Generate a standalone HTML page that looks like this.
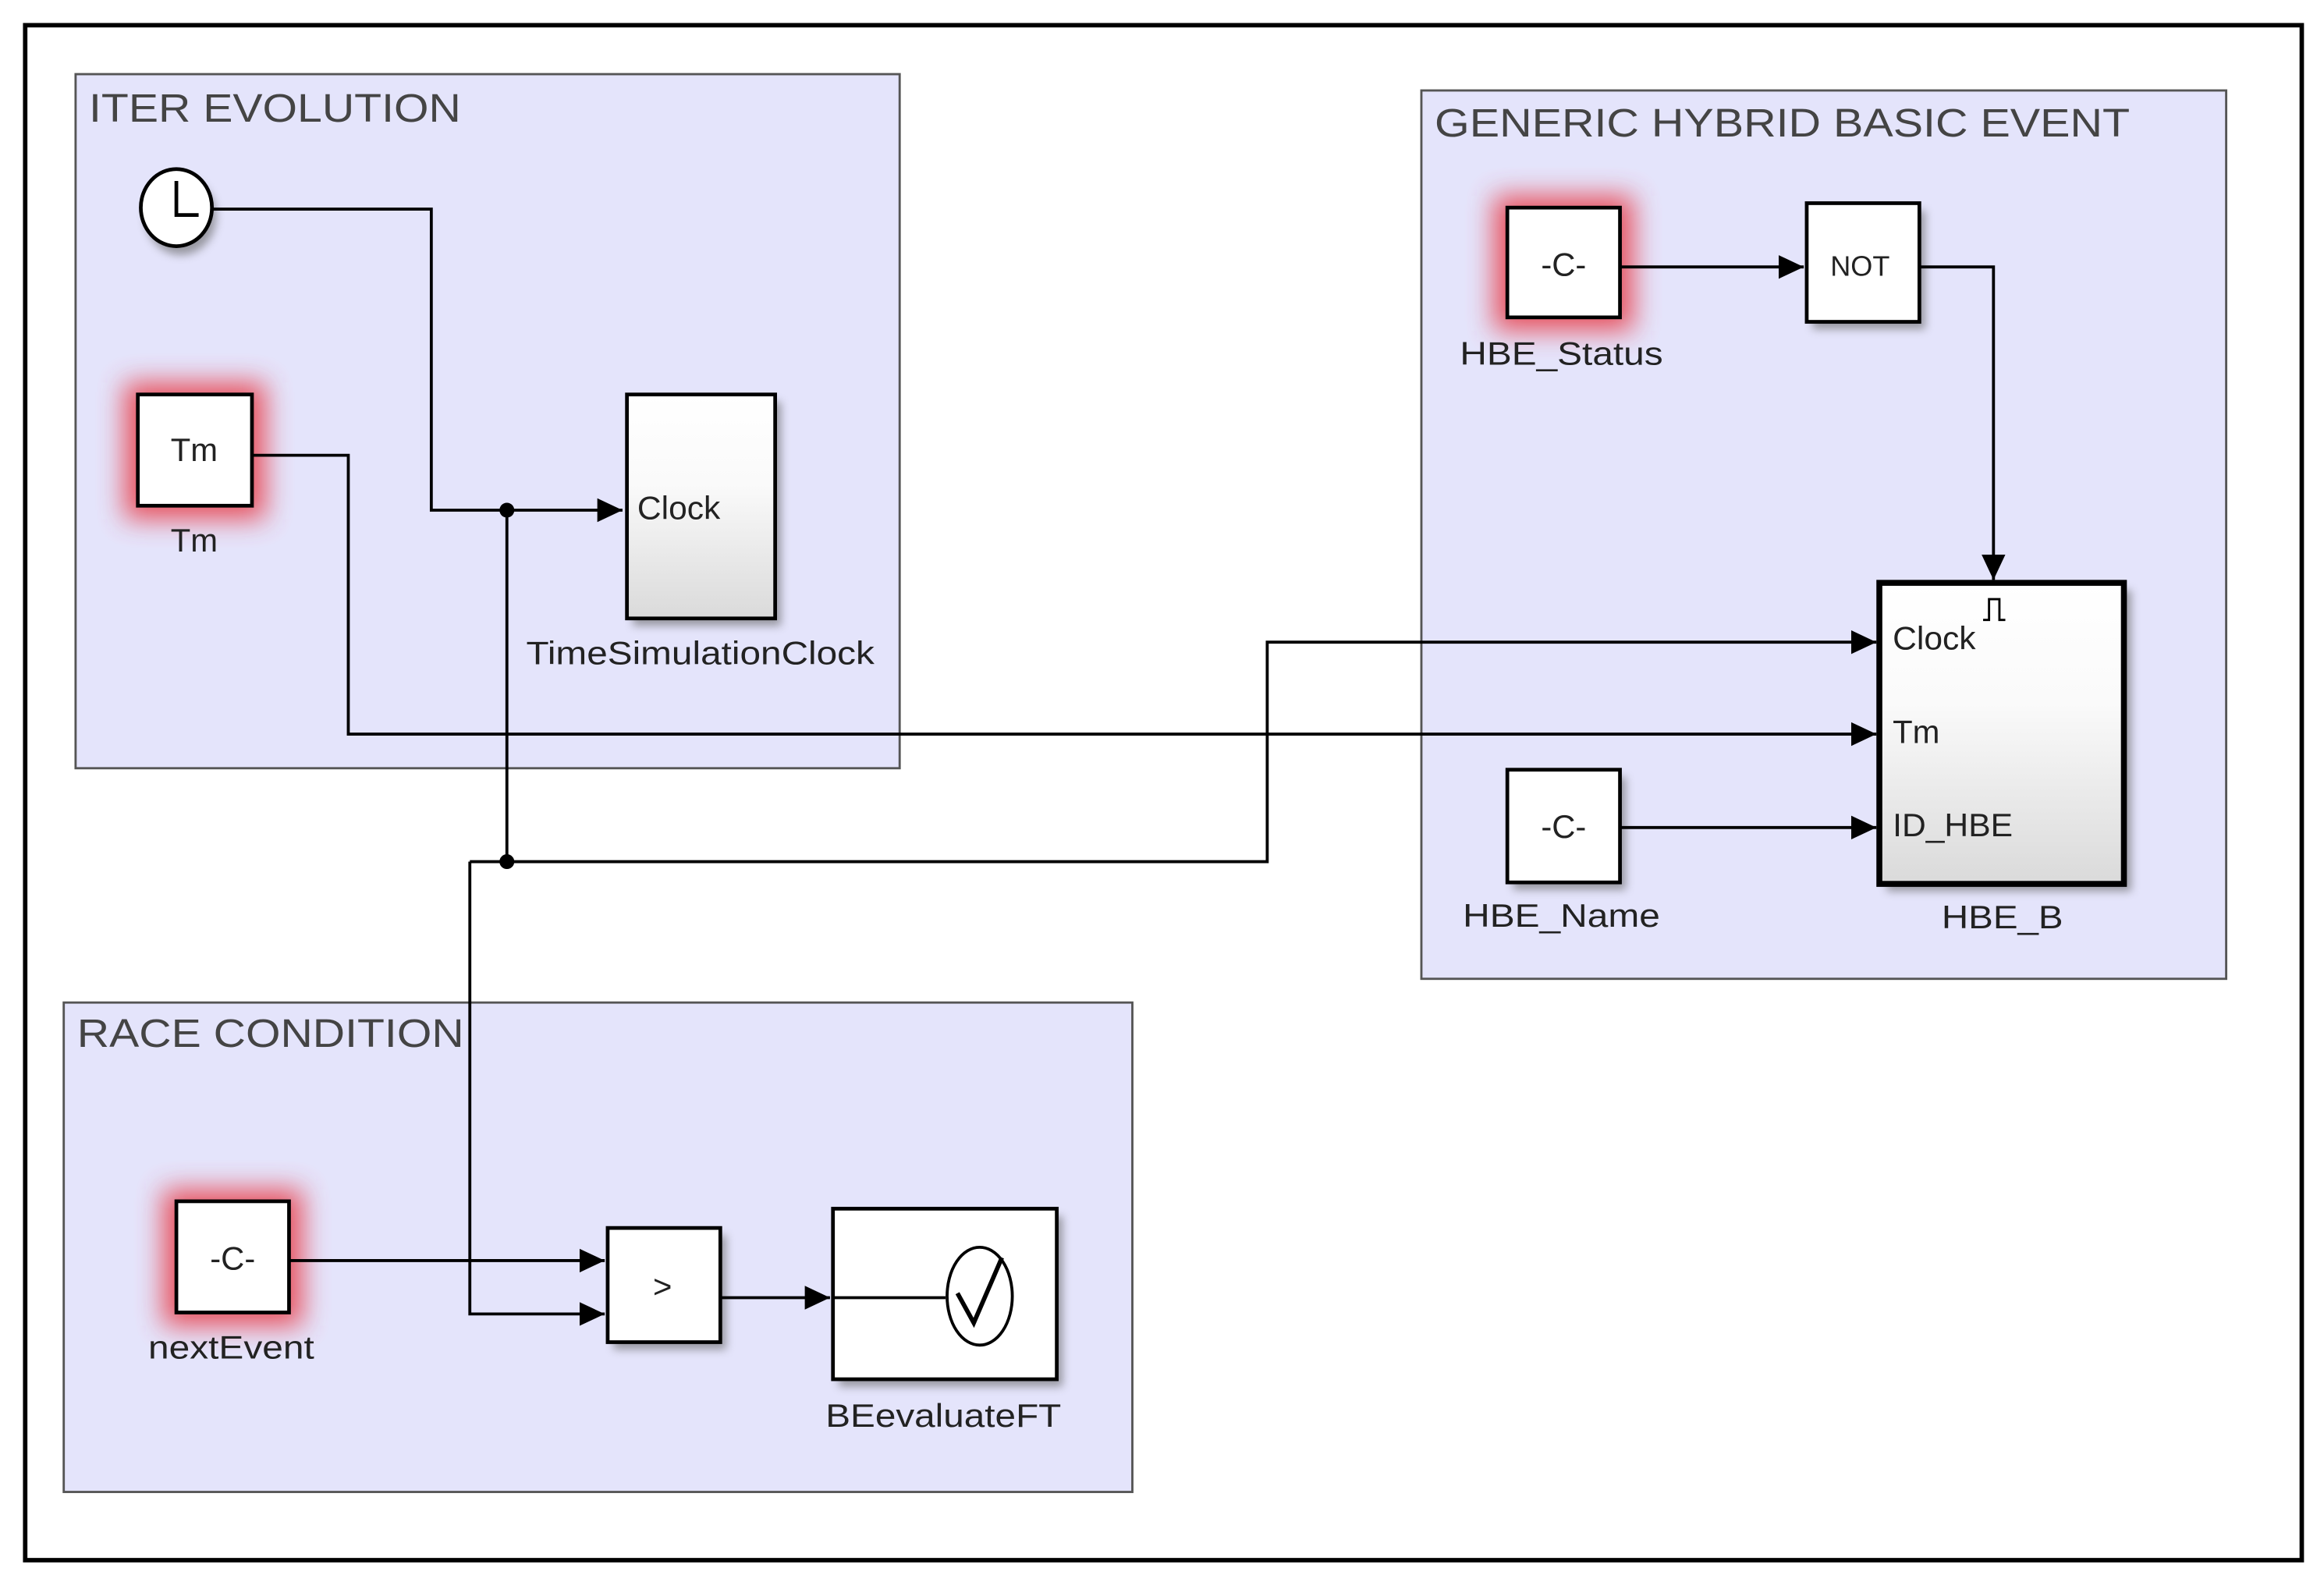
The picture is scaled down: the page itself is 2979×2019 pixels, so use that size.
<!DOCTYPE html>
<html><head><meta charset="utf-8"><style>html,body{margin:0;padding:0;background:#fff}svg{display:block}</style></head>
<body>
<svg width="2979" height="2019" viewBox="0 0 1568 1062" preserveAspectRatio="none" xmlns="http://www.w3.org/2000/svg" font-family="Liberation Sans, sans-serif">
<defs>
<linearGradient id="g" x1="0" y1="0" x2="0" y2="1"><stop offset="0" stop-color="#fff"/><stop offset="0.4" stop-color="#fafafa"/><stop offset="1" stop-color="#dadada"/></linearGradient>
<filter id="glow" x="-60%" y="-60%" width="220%" height="220%"><feGaussianBlur stdDeviation="9"/></filter>
<filter id="sh" x="-20%" y="-20%" width="150%" height="150%"><feGaussianBlur stdDeviation="3"/></filter>
<marker id="a" markerWidth="18" markerHeight="18" refX="17" refY="9" orient="auto" markerUnits="userSpaceOnUse"><path d="M0,1 L17,9 L0,17z" fill="#000"/></marker>
</defs>
<rect width="1568" height="1062" fill="#fff"/>
<rect x="17" y="17" width="1536" height="1035" fill="none" stroke="#000" stroke-width="3"/>
<rect x="51" y="50" width="556" height="468" fill="#e4e4fb" stroke="#555" stroke-width="1.5"/>
<rect x="959" y="61" width="543" height="599" fill="#e4e4fb" stroke="#555" stroke-width="1.5"/>
<rect x="43" y="676" width="721" height="330" fill="#e4e4fb" stroke="#555" stroke-width="1.5"/>
<g font-size="27" fill="#444">
<text x="60" y="82" textLength="251" lengthAdjust="spacingAndGlyphs">ITER EVOLUTION</text>
<text x="968" y="92" textLength="469" lengthAdjust="spacingAndGlyphs">GENERIC HYBRID BASIC EVENT</text>
<text x="52" y="706" textLength="261" lengthAdjust="spacingAndGlyphs">RACE CONDITION</text>
</g>
<g fill="#e84a55" filter="url(#glow)" opacity="0.95">
<rect x="84" y="258" width="95" height="92"/>
<rect x="1008" y="132" width="94" height="91"/>
<rect x="110" y="802" width="94" height="92"/>
</g>
<g fill="#666" filter="url(#sh)" opacity="0.6">
<ellipse cx="122" cy="146" rx="24" ry="26"/>
<rect x="427" y="271" width="100" height="151"/>
<rect x="1223" y="142" width="76" height="80"/>
<rect x="1021" y="524" width="76" height="76"/>
<rect x="1273" y="398" width="165" height="203"/>
<rect x="414" y="833" width="76" height="77"/>
<rect x="566" y="820" width="151" height="115"/>
</g>
<g stroke="#000" stroke-width="2.5">
<ellipse cx="119" cy="140" rx="24" ry="26" fill="#fff"/>
<rect x="93" y="266" width="77" height="75" fill="#fff"/>
<rect x="423" y="266" width="100" height="151" fill="url(#g)"/>
<rect x="1017" y="140" width="76" height="74" fill="#fff"/>
<rect x="1219" y="137" width="76" height="80" fill="#fff"/>
<rect x="1017" y="519" width="76" height="76" fill="#fff"/>
<rect x="1268" y="393" width="165" height="203" fill="url(#g)" stroke-width="4"/>
<rect x="119" y="810" width="76" height="75" fill="#fff"/>
<rect x="410" y="828" width="76" height="77" fill="#fff"/>
<rect x="562" y="815" width="151" height="115" fill="#fff"/>
</g>
<path d="M119,122 V145 H134" fill="none" stroke="#000" stroke-width="2.5"/>
<g fill="none" stroke="#000" stroke-width="2">
<path d="M144,141 H291 V344 H420" marker-end="url(#a)"/>
<path d="M342,344 V581"/>
<path d="M317,581 H855 V433 H1266" marker-end="url(#a)"/>
<path d="M317,581 V886 H408" marker-end="url(#a)"/>
<path d="M170,307 H235 V495 H1266" marker-end="url(#a)"/>
<path d="M1093,180 H1217" marker-end="url(#a)"/>
<path d="M1295,180 H1345 V391" marker-end="url(#a)"/>
<path d="M1093,558 H1266" marker-end="url(#a)"/>
<path d="M195,850 H408" marker-end="url(#a)"/>
<path d="M486,875 H560" marker-end="url(#a)"/>
<path d="M562,875 H638"/>
<ellipse cx="661" cy="874" rx="22" ry="33" stroke-width="2"/>
<path d="M646,872 L657,892 L676,848" stroke-width="3"/>
<path d="M1338,418 H1342 V404 H1349 V418 H1353" stroke-width="1.5"/>
</g>
<circle cx="342" cy="344" r="5" fill="#000"/>
<circle cx="342" cy="581" r="5" fill="#000"/>
<g font-size="22" fill="#222">
<text x="131" y="311" text-anchor="middle">Tm</text>
<text x="131" y="372" text-anchor="middle">Tm</text>
<text x="430" y="350" textLength="56" lengthAdjust="spacingAndGlyphs">Clock</text>
<text x="355" y="448" textLength="235" lengthAdjust="spacingAndGlyphs">TimeSimulationClock</text>
<text x="1055" y="186" text-anchor="middle">-C-</text>
<text x="985" y="246" textLength="137" lengthAdjust="spacingAndGlyphs">HBE_Status</text>
<text x="1255" y="186" text-anchor="middle" font-size="19">NOT</text>
<text x="1277" y="438" textLength="56" lengthAdjust="spacingAndGlyphs">Clock</text>
<text x="1277" y="501">Tm</text>
<text x="1277" y="564" textLength="81" lengthAdjust="spacingAndGlyphs">ID_HBE</text>
<text x="1310" y="626" textLength="82" lengthAdjust="spacingAndGlyphs">HBE_B</text>
<text x="1055" y="565" text-anchor="middle">-C-</text>
<text x="987" y="625" textLength="133" lengthAdjust="spacingAndGlyphs">HBE_Name</text>
<text x="157" y="856" text-anchor="middle">-C-</text>
<text x="100" y="916" textLength="112" lengthAdjust="spacingAndGlyphs">nextEvent</text>
<text x="447" y="875" text-anchor="middle">&gt;</text>
<text x="557" y="962" textLength="159" lengthAdjust="spacingAndGlyphs">BEevaluateFT</text>
</g>
</svg>
</body></html>
